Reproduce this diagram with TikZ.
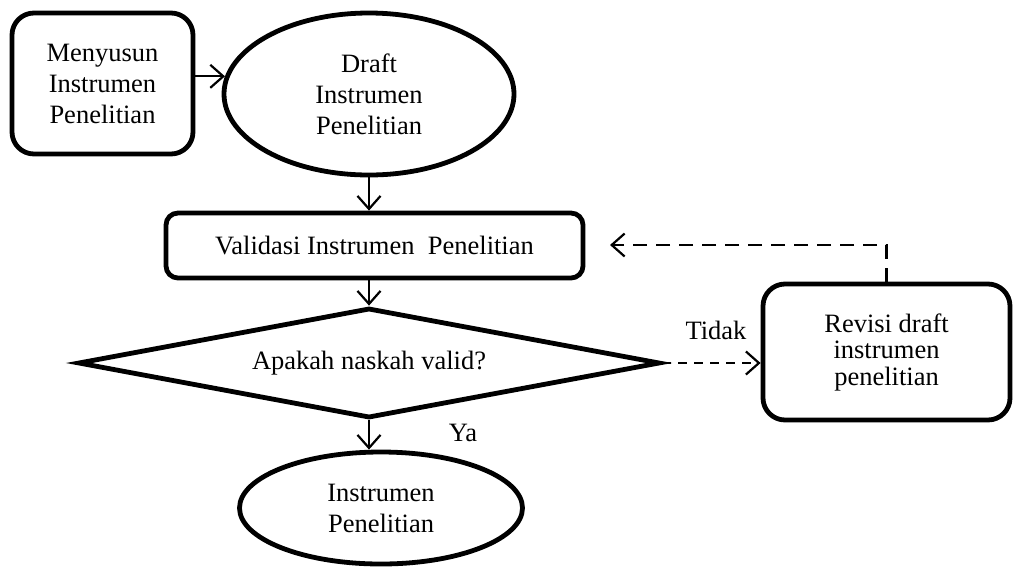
\documentclass[tikz,border=0pt]{standalone}
\usepackage{fontspec}
\setmainfont{Liberation Serif}
\usetikzlibrary{shapes.geometric,arrows.meta}
\begin{document}
\begin{tikzpicture}[x=1pt,y=-1pt,
  every node/.style={font=\fontsize{26.5}{31}\selectfont},
  thick box/.style={draw, line width=4.8pt, rounded corners=22pt, align=center, inner sep=0pt},
  oval/.style={draw, ellipse, line width=4.8pt, align=center, inner sep=0pt},
  arr/.style={line width=2.2pt, -{Straight Barb[length=13pt,width=23pt,line width=2.2pt]}},
  dasharr/.style={arr, dash pattern=on 14pt off 9pt},
  tidakarr/.style={arr, dash pattern=on 9pt off 7pt},
  lbl/.style={inner sep=0pt}
]
\useasboundingbox (0,0) rectangle (1014,566);

\node[thick box, minimum width=181pt, minimum height=141pt] (menyusun) at (102.5,83.5)
  {Menyusun\\Instrumen\\Penelitian};
\node[oval, minimum width=290pt, minimum height=162pt] (draft) at (369,94)
  {Draft\\Instrumen\\Penelitian};
\node[thick box, rounded corners=12pt, minimum width=417pt, minimum height=65pt] (valid) at (374.5,245.5)
  {Validasi Instrumen\ \ Penelitian};
\node[draw, diamond, line width=4.8pt, aspect=5.29, inner sep=0pt,
  minimum width=582pt, minimum height=110pt] (dia) at (369,363) {Apakah naskah valid?};
\node[oval, minimum width=283pt, minimum height=112pt] (fin) at (381,508)
  {Instrumen\\Penelitian};
\node[thick box, minimum width=247pt, minimum height=136pt,
  font=\fontsize{26.5}{26.5}\selectfont] (rev) at (886.5,352)
  {Revisi draft\\instrumen\\penelitian};

\node[lbl] (ya) at (463,433) {Ya};
\node[lbl] (tidak) at (716,330) {Tidak};

\coordinate (fb) at (610,245);

\draw[arr] (menyusun.east |- draft.173) -- (draft.173);
\draw[arr] (draft.south) -- (draft.south |- valid.north);
\draw[arr] (draft.south |- valid.south) -- (draft.south |- dia.north);
\draw[arr] (draft.south |- dia.south) -- (draft.south |- fin.north);
\draw[tidakarr] (dia.east) -- (rev.west |- dia.east);
\draw[dasharr] (rev.north) |- (fb);
\end{tikzpicture}
\end{document}
